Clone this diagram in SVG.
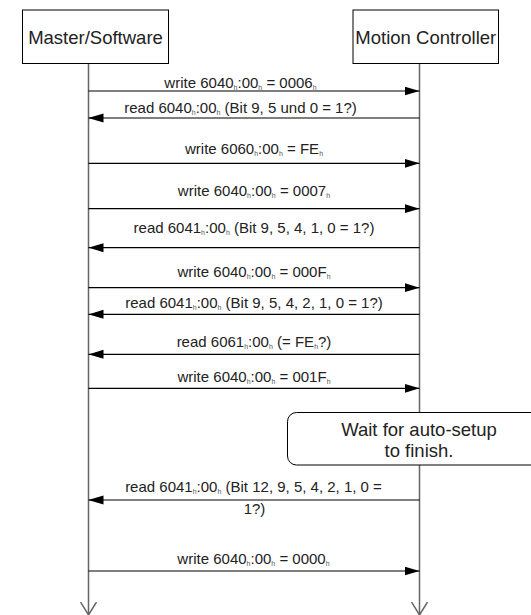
<svg xmlns="http://www.w3.org/2000/svg" width="531" height="615" viewBox="0 0 531 615">
  <defs>
    <marker id="fill" viewBox="0 0 15 10" refX="15" refY="5" markerWidth="15" markerHeight="10" markerUnits="userSpaceOnUse" orient="auto">
      <path d="M0,0.5 L15,5 L0,9.5 Z" fill="#000"/>
    </marker>
    <marker id="open" viewBox="0 0 14 18" refX="13" refY="9" markerWidth="14" markerHeight="18" markerUnits="userSpaceOnUse" orient="auto">
      <path d="M0,1 L13,9 L0,17" fill="none" stroke="#666" stroke-width="1.5"/>
    </marker>
    <style>
      .box { fill: #fff; stroke: #000; stroke-width: 1; }
      .head { font-family: "Liberation Sans", Arial, sans-serif; font-size: 18.5px; fill: #222; text-anchor: middle; }
      .life { stroke: #666; stroke-width: 1.5; fill: none; marker-end: url(#open); }
      .msg { stroke: #000; stroke-width: 1.2; fill: none; marker-end: url(#fill); }
      .lbl { font-family: "Liberation Sans", Arial, sans-serif; font-size: 15px; fill: #222; text-anchor: middle; }
      .s { font-size: 7px; fill: #555; }
    </style>
  </defs>
  <rect width="531" height="615" fill="#fff"/>

  <g id="connectors">
    <line class="life" x1="88.5" y1="63.5" x2="88.5" y2="615"/>
    <line class="life" x1="419.5" y1="63.5" x2="419.5" y2="615"/>

    <line class="msg" x1="88.5" y1="91" x2="419.5" y2="91"/>
    <text class="lbl" x="240.5" y="87.5">write 6040<tspan class="s" dy="2">h</tspan><tspan dy="-2">:00</tspan><tspan class="s" dy="2">h</tspan><tspan dy="-2"> = 0006</tspan><tspan class="s" dy="2">h</tspan></text>

    <line class="msg" x1="419.5" y1="118" x2="88.5" y2="118"/>
    <text class="lbl" x="240.5" y="113">read 6040<tspan class="s" dy="2">h</tspan><tspan dy="-2">:00</tspan><tspan class="s" dy="2">h</tspan><tspan dy="-2"> (Bit 9, 5 und 0 = 1?)</tspan></text>

    <line class="msg" x1="88.5" y1="163.3" x2="419.5" y2="163.3"/>
    <text class="lbl" x="254" y="154.3">write 6060<tspan class="s" dy="2">h</tspan><tspan dy="-2">:00</tspan><tspan class="s" dy="2">h</tspan><tspan dy="-2"> = FE</tspan><tspan class="s" dy="2">h</tspan></text>

    <line class="msg" x1="88.5" y1="208.7" x2="419.5" y2="208.7"/>
    <text class="lbl" x="254" y="195.7">write 6040<tspan class="s" dy="2">h</tspan><tspan dy="-2">:00</tspan><tspan class="s" dy="2">h</tspan><tspan dy="-2"> = 0007</tspan><tspan class="s" dy="2">h</tspan></text>

    <line class="msg" x1="419.5" y1="247.7" x2="88.5" y2="247.7"/>
    <text class="lbl" x="254" y="233.3">read 6041<tspan class="s" dy="2">h</tspan><tspan dy="-2">:00</tspan><tspan class="s" dy="2">h</tspan><tspan dy="-2"> (Bit 9, 5, 4, 1, 0 = 1?)</tspan></text>

    <line class="msg" x1="88.5" y1="287.7" x2="419.5" y2="287.7"/>
    <text class="lbl" x="254" y="276.7">write 6040<tspan class="s" dy="2">h</tspan><tspan dy="-2">:00</tspan><tspan class="s" dy="2">h</tspan><tspan dy="-2"> = 000F</tspan><tspan class="s" dy="2">h</tspan></text>

    <line class="msg" x1="419.5" y1="314.3" x2="88.5" y2="314.3"/>
    <text class="lbl" x="254" y="308.3">read 6041<tspan class="s" dy="2">h</tspan><tspan dy="-2">:00</tspan><tspan class="s" dy="2">h</tspan><tspan dy="-2"> (Bit 9, 5, 4, 2, 1, 0 = 1?)</tspan></text>

    <line class="msg" x1="419.5" y1="354.3" x2="88.5" y2="354.3"/>
    <text class="lbl" x="254" y="347.3">read 6061<tspan class="s" dy="2">h</tspan><tspan dy="-2">:00</tspan><tspan class="s" dy="2">h</tspan><tspan dy="-2"> (= FE</tspan><tspan class="s" dy="2">h</tspan><tspan dy="-2">?)</tspan></text>

    <line class="msg" x1="88.5" y1="388.3" x2="419.5" y2="388.3"/>
    <text class="lbl" x="254" y="381.7">write 6040<tspan class="s" dy="2">h</tspan><tspan dy="-2">:00</tspan><tspan class="s" dy="2">h</tspan><tspan dy="-2"> = 001F</tspan><tspan class="s" dy="2">h</tspan></text>

    <line class="msg" x1="419.5" y1="500" x2="88.5" y2="500"/>
    <text class="lbl" x="253.5" y="492.3">read 6041<tspan class="s" dy="2">h</tspan><tspan dy="-2">:00</tspan><tspan class="s" dy="2">h</tspan><tspan dy="-2"> (Bit 12, 9, 5, 4, 2, 1, 0 =</tspan></text>
    <text class="lbl" x="254.5" y="514">1?)</text>

    <line class="msg" x1="88.5" y1="571" x2="419.5" y2="571"/>
    <text class="lbl" x="253.5" y="564.3">write 6040<tspan class="s" dy="2">h</tspan><tspan dy="-2">:00</tspan><tspan class="s" dy="2">h</tspan><tspan dy="-2"> = 0000</tspan><tspan class="s" dy="2">h</tspan></text>
  </g>

  <g id="master">
    <rect class="box" x="22.5" y="10" width="146" height="53.5"/>
    <text class="head" x="95.5" y="43.5">Master/Software</text>
  </g>

  <g id="controller">
    <rect class="box" x="353" y="10" width="145.5" height="53.5"/>
    <text class="head" x="425.8" y="43.5">Motion Controller</text>
  </g>

  <g id="note">
    <rect class="box" x="287.5" y="412.5" width="264" height="52.5" rx="9" ry="9"/>
    <text class="head" x="419" y="435.5">Wait for auto-setup</text>
    <text class="head" x="419" y="456.5">to finish.</text>
  </g>
</svg>
